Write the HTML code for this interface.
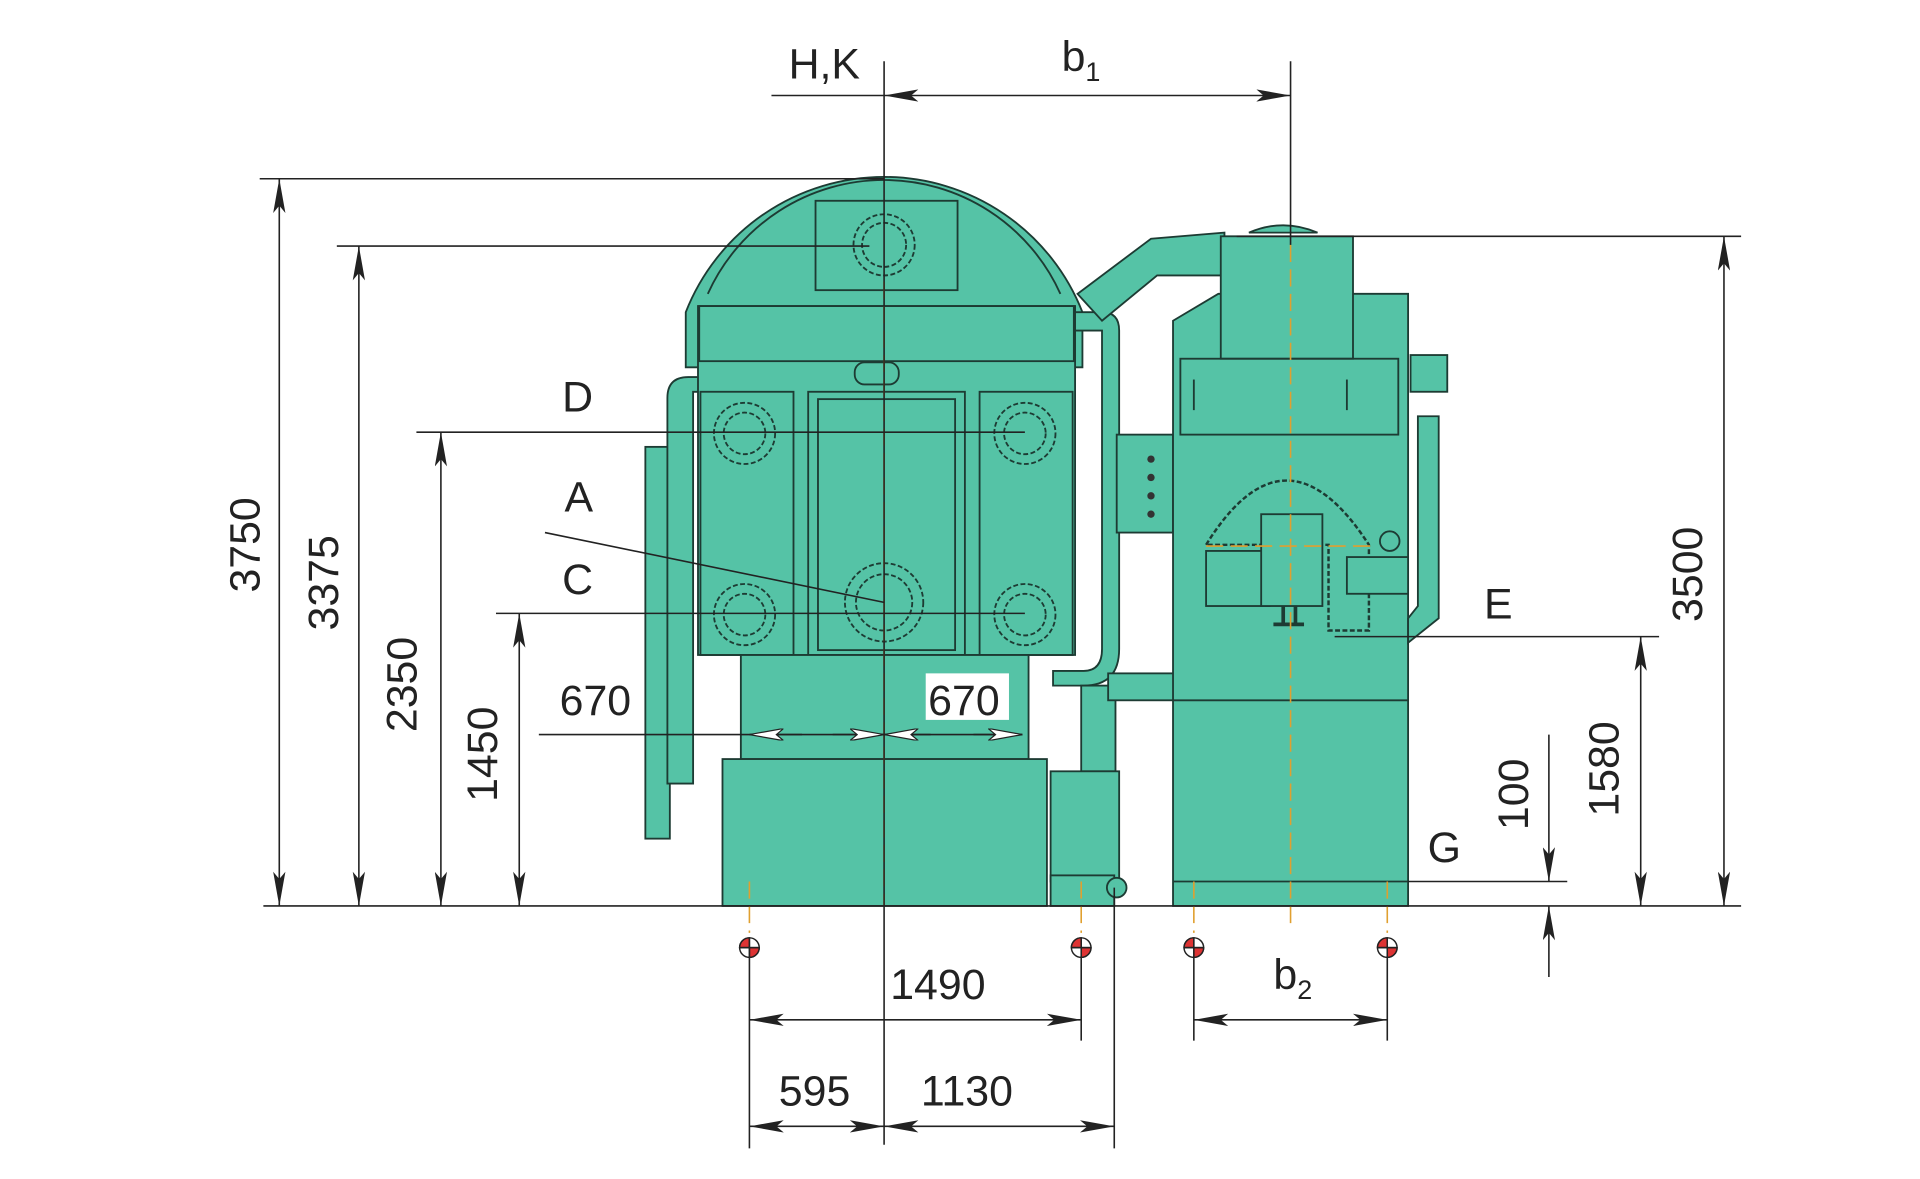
<!DOCTYPE html>
<html><head><meta charset="utf-8"><style>
html,body{margin:0;padding:0;background:#fff;width:1920px;height:1179px;overflow:hidden}
svg{display:block}
text{font-family:"Liberation Sans",Arial,sans-serif;fill:#222}
</style></head><body>
<svg width="1920" height="1179" viewBox="0 0 1568 963" xmlns="http://www.w3.org/2000/svg">
<defs>
<marker id="a" viewBox="0 0 28 10" refX="28" refY="5" markerWidth="28" markerHeight="10" orient="auto-start-reverse" markerUnits="userSpaceOnUse"><path d="M0,0 L28,5 L0,10 L6,5 Z" fill="#222"/></marker>
<marker id="w" viewBox="0 0 28 10" refX="28" refY="5" markerWidth="28" markerHeight="10" orient="auto-start-reverse" markerUnits="userSpaceOnUse"><path d="M0,0 L28,5 L0,10 L6,5 Z" fill="#fff" stroke="#222" stroke-width="1"/></marker>
</defs>
<g stroke="#1d3b33" stroke-width="1.5" fill="#55c3a6">
<rect x="527" y="365" width="20" height="320"/>
<path d="M545,640 L545,325 Q545,308 562,308 L705,308 L705,320 L566,320 L566,640 Z"/>
<path d="M560,255 A174,174 0 0 1 884,255 L884,300 L560,300 Z"/>
<path d="M578,240 A158,158 0 0 1 866,240" fill="none" stroke-width="1.5"/>
<path d="M570,250 L570,535 L878,535 L878,250 Z"/>
<rect x="666" y="164" width="116" height="73"/>
<rect x="571" y="250" width="306" height="45" fill="none"/>
<rect x="698" y="296" width="36" height="18" rx="8"/>
<rect x="572" y="320" width="76" height="215" fill="none"/>
<rect x="660" y="320" width="128" height="215" fill="none"/>
<rect x="668" y="326" width="112" height="205" fill="none"/>
<rect x="800" y="320" width="76" height="215" fill="none"/>
<rect x="605" y="535" width="235" height="85"/>
<rect x="590" y="620" width="265" height="120"/>
<path d="M878,255 L900,255 Q914,255 914,270 L914,530 Q914,560 885,560 L860,560 L860,548 L885,548 Q900,548 900,530 L900,270 L878,270 Z"/>
<rect x="883" y="560" width="28" height="70"/>
<rect x="858" y="630" width="56" height="90"/>
<rect x="858" y="715" width="52" height="25"/>
<circle cx="912" cy="725" r="8"/>
<rect x="905" y="550" width="70" height="22"/>
<path d="M880,240 L940,195 L1000,190 L1000,225 L945,225 L900,262 Z"/>
<rect x="912" y="355" width="46" height="80"/>
<path d="M958,262 L995,240 L1150,240 L1150,740 L958,740 Z"/>
<path d="M1020,190 Q1048,178 1076,190 Z"/>
<rect x="997" y="193" width="108" height="100"/>
<rect x="964" y="293" width="178" height="62" fill="none"/>
<line x1="975" y1="310" x2="975" y2="335"/><line x1="1100" y1="310" x2="1100" y2="335"/>
<rect x="1152" y="290" width="30" height="30"/>
<path d="M1158,340 L1175,340 L1175,505 L1150,525 L1150,505 L1158,495 Z"/>
<path d="M985,445 Q1050,340 1118,445 L1118,515 L1085,515 L1085,445 Z" fill="none" stroke-dasharray="4,2" stroke-width="2"/>
<rect x="985" y="450" width="52" height="45"/>
<rect x="1030" y="420" width="50" height="75"/>
<rect x="1100" y="455" width="50" height="30"/>
<circle cx="1135" cy="442" r="8" fill="none"/>
<path d="M1040,510 L1065,510 M1048,495 L1048,510 M1058,495 L1058,510" fill="none" stroke-width="3"/>
<line x1="958" y1="572" x2="1150" y2="572"/>
<line x1="958" y1="720" x2="1150" y2="720"/>
</g>
<g fill="none" stroke="#1d3b33" stroke-width="1.5" stroke-dasharray="4,2">
<circle cx="722" cy="200" r="25"/><circle cx="722" cy="200" r="18"/>
<circle cx="608" cy="354" r="25"/><circle cx="608" cy="354" r="17"/>
<circle cx="837" cy="354" r="25"/><circle cx="837" cy="354" r="17"/>
<circle cx="608" cy="502" r="25"/><circle cx="608" cy="502" r="17"/>
<circle cx="837" cy="502" r="25"/><circle cx="837" cy="502" r="17"/>
<circle cx="722" cy="492" r="32"/><circle cx="722" cy="492" r="23"/>
</g>
<g fill="#333"><circle cx="940" cy="375" r="3"/><circle cx="940" cy="390" r="3"/><circle cx="940" cy="405" r="3"/><circle cx="940" cy="420" r="3"/></g>
<g stroke="#e0a030" stroke-width="1.3" stroke-dasharray="14,6">
<line x1="722" y1="230" x2="722" y2="740"/>
<line x1="1054" y1="200" x2="1054" y2="760"/>
<line x1="612" y1="720" x2="612" y2="762"/><line x1="883" y1="720" x2="883" y2="762"/>
<line x1="975" y1="720" x2="975" y2="762"/><line x1="1133" y1="720" x2="1133" y2="762"/>
<line x1="985" y1="446" x2="1120" y2="446"/>
</g>
<g stroke="#222" stroke-width="1.3" fill="none">
<line x1="215" y1="740" x2="1422" y2="740"/>
<line x1="722" y1="50" x2="722" y2="935"/>
<line x1="630" y1="78" x2="722" y2="78"/>
<line x1="1054" y1="50" x2="1054" y2="200"/>
<line x1="722" y1="78" x2="1054" y2="78" marker-start="url(#a)" marker-end="url(#a)"/>
<line x1="212" y1="146" x2="722" y2="146"/>
<line x1="275" y1="201" x2="710" y2="201"/>
<line x1="340" y1="353" x2="837" y2="353"/>
<line x1="405" y1="501" x2="837" y2="501"/>
<line x1="445" y1="435" x2="722" y2="492"/>
<line x1="1010" y1="193" x2="1422" y2="193"/>
<line x1="1090" y1="520" x2="1355" y2="520"/>
<line x1="1150" y1="720" x2="1280" y2="720"/>
<line x1="228" y1="146" x2="228" y2="740" marker-start="url(#a)" marker-end="url(#a)"/>
<line x1="293" y1="201" x2="293" y2="740" marker-start="url(#a)" marker-end="url(#a)"/>
<line x1="360" y1="353" x2="360" y2="740" marker-start="url(#a)" marker-end="url(#a)"/>
<line x1="424" y1="501" x2="424" y2="740" marker-start="url(#a)" marker-end="url(#a)"/>
<line x1="1408" y1="193" x2="1408" y2="740" marker-start="url(#a)" marker-end="url(#a)"/>
<line x1="1340" y1="520" x2="1340" y2="740" marker-start="url(#a)" marker-end="url(#a)"/>
<line x1="1265" y1="600" x2="1265" y2="720" marker-end="url(#a)"/>
<line x1="1265" y1="798" x2="1265" y2="740" marker-end="url(#a)"/>
<line x1="440" y1="600" x2="835" y2="600"/>
<line x1="612" y1="600" x2="655" y2="600" marker-start="url(#w)"/>
<line x1="680" y1="600" x2="722" y2="600" marker-end="url(#w)"/>
<line x1="722" y1="600" x2="760" y2="600" marker-start="url(#w)"/>
<line x1="795" y1="600" x2="835" y2="600" marker-end="url(#w)"/>
<line x1="612" y1="770" x2="612" y2="938"/>
<line x1="883" y1="770" x2="883" y2="850"/>
<line x1="975" y1="770" x2="975" y2="850"/>
<line x1="1133" y1="770" x2="1133" y2="850"/>
<line x1="910" y1="725" x2="910" y2="938"/>
<line x1="612" y1="833" x2="883" y2="833" marker-start="url(#a)" marker-end="url(#a)"/>
<line x1="975" y1="833" x2="1133" y2="833" marker-start="url(#a)" marker-end="url(#a)"/>
<line x1="612" y1="920" x2="722" y2="920" marker-start="url(#a)" marker-end="url(#a)"/>
<line x1="722" y1="920" x2="910" y2="920" marker-start="url(#a)" marker-end="url(#a)"/>
</g>
<g stroke="#222" stroke-width="1.2">
<g transform="translate(612,774)"><circle r="8" fill="#fff"/><path d="M0,0 L8,0 A8,8 0 0 1 0,8 Z M0,0 L-8,0 A8,8 0 0 1 0,-8 Z" fill="#d33"/><line x1="-8" y1="0" x2="8" y2="0"/><line x1="0" y1="-8" x2="0" y2="8"/></g>
<g transform="translate(883,774)"><circle r="8" fill="#fff"/><path d="M0,0 L8,0 A8,8 0 0 1 0,8 Z M0,0 L-8,0 A8,8 0 0 1 0,-8 Z" fill="#d33"/><line x1="-8" y1="0" x2="8" y2="0"/><line x1="0" y1="-8" x2="0" y2="8"/></g>
<g transform="translate(975,774)"><circle r="8" fill="#fff"/><path d="M0,0 L8,0 A8,8 0 0 1 0,8 Z M0,0 L-8,0 A8,8 0 0 1 0,-8 Z" fill="#d33"/><line x1="-8" y1="0" x2="8" y2="0"/><line x1="0" y1="-8" x2="0" y2="8"/></g>
<g transform="translate(1133,774)"><circle r="8" fill="#fff"/><path d="M0,0 L8,0 A8,8 0 0 1 0,8 Z M0,0 L-8,0 A8,8 0 0 1 0,-8 Z" fill="#d33"/><line x1="-8" y1="0" x2="8" y2="0"/><line x1="0" y1="-8" x2="0" y2="8"/></g>
</g>
<g font-size="35">
<text x="644" y="64">H,K</text>
<text x="867" y="58">b<tspan font-size="22" dy="8">1</tspan></text>
<text x="459" y="336">D</text>
<text x="461" y="418">A</text>
<text x="459" y="485">C</text>
<text x="1212" y="505">E</text>
<text x="1166" y="704">G</text>
<text x="457" y="584">670</text>
<rect x="756" y="550" width="68" height="38" fill="#fff"/>
<text x="758" y="584">670</text>
<text x="727" y="816">1490</text>
<text x="1040" y="808">b<tspan font-size="22" dy="8">2</tspan></text>
<text x="636" y="903">595</text>
<text x="752" y="903">1130</text>
<text transform="translate(212,484) rotate(-90)">3750</text>
<text transform="translate(276,515) rotate(-90)">3375</text>
<text transform="translate(340,598) rotate(-90)">2350</text>
<text transform="translate(406,655) rotate(-90)">1450</text>
<text transform="translate(1390,508) rotate(-90)">3500</text>
<text transform="translate(1322,667) rotate(-90)">1580</text>
<text transform="translate(1248,678) rotate(-90)">100</text>
</g>
</svg>
</body></html>
